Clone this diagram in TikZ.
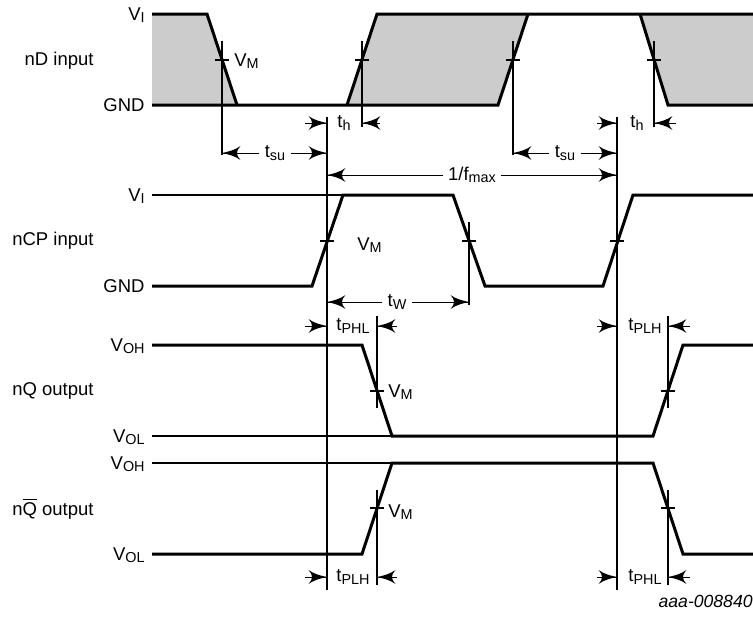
\documentclass[tikz,border=0pt]{standalone}
\usepackage{fontspec}
\setmainfont{Liberation Sans}
\usetikzlibrary{arrows}
\usetikzlibrary{decorations.markings}
\usetikzlibrary{positioning}
\tikzset{dimarrow/.style = {decoration={markings,
                                  mark=at position 1 with {\arrow[scale=2.3]{latex'}}},
                      postaction={decorate}}}
\tikzset{signal/.style = {line width=1.5pt}}
\tikzset{guide/.style = {line width=0.55pt}}
\tikzset{level/.style = {anchor=base east, inner sep=0pt}}
\tikzset{vmark/.style = {anchor=base west, inner sep=0pt}}
\tikzset{dimlabel/.style = {inner xsep=2.5pt, inner ysep=0pt}}
\definecolor{mgrey}{rgb}{0.8, 0.8, 0.8}
\newcommand{\lsub}[1]{\raisebox{-1.1pt}{\fontsize{7.2}{8}\selectfont #1}}

\begin{document}
\begin{tikzpicture}[x=0.5pt, y=-0.5pt, font=\fontsize{9.25}{11}\selectfont]
    \useasboundingbox (0, 0) rectangle (753, 616);
    \fill [mgrey] (152, 14) -- (207, 14) -- (237, 105) -- (152, 105) -- cycle;
    \fill [mgrey] (347, 105) -- (377, 14) -- (528, 14) -- (498, 105) -- cycle;
    \fill [mgrey] (640, 14) -- (753, 14) -- (753, 105) -- (668, 105) -- cycle;
    \draw [signal] (152, 14) -- (207, 14) -- (237, 105);
    \draw [signal] (152, 105) -- (498, 105) -- (528, 14);
    \draw [signal] (347, 105) -- (377, 14) -- (753, 14);
    \draw [signal] (640, 14) -- (668, 105) -- (753, 105);
    \draw [guide] (152, 195) -- (343, 195);
    \draw [signal] (152, 286) -- (312, 286) -- (343, 195) -- (453, 195) -- (485, 286)
        -- (603, 286) -- (633, 195) -- (753, 195);
    \draw [guide] (152, 436) -- (392, 436);
    \draw [signal] (152, 345) -- (362, 345) -- (392, 436) -- (653, 436) -- (683, 345) -- (753, 345);
    \draw [guide] (152, 463) -- (392, 463);
    \draw [signal] (152, 554) -- (362, 554) -- (392, 463) -- (653, 463) -- (683, 554) -- (753, 554);
    \draw [guide] (327, 117) -- (327, 590);
    \draw [guide] (617, 117) -- (617, 590);
    \draw [guide] (222, 41) -- (222, 155) (362, 41) -- (362, 127)
        (513, 41) -- (513, 155) (654, 41) -- (654, 127)
        (469, 222) -- (469, 305)
        (377, 316) -- (377, 408) (668, 316) -- (668, 408)
        (377, 490) -- (377, 585) (668, 490) -- (668, 585);
    \draw [guide] (215, 60) -- (229, 60) (355, 60) -- (369, 60)
        (506, 60) -- (520, 60) (647, 60) -- (661, 60)
        (320, 241) -- (334, 241) (462, 241) -- (476, 241) (610, 241) -- (624, 241)
        (370, 391) -- (384, 391) (661, 391) -- (675, 391)
        (370, 508) -- (384, 508) (661, 508) -- (675, 508);
    \node [level] (nd) at (94, 65) {nD input};
    \node [level] (ncp) at (94, 245) {nCP input};
    \node [level] (nq) at (94, 395) {nQ output};
    \node [level] (nqbar) at (94, 515) {n$\overline{\mbox{Q}}$ output};
    \node [level] (vi1) at (145, 20.6) {V\lsub{I}};
    \node [level] (gnd1) at (145, 111.6) {GND};
    \node [level] (vi2) at (145, 201.6) {V\lsub{I}};
    \node [level] (gnd2) at (145, 292.6) {GND};
    \node [level] (voh1) at (145, 351.6) {V\lsub{OH}};
    \node [level] (vol1) at (145, 442.6) {V\lsub{OL}};
    \node [level] (voh2) at (145, 469.6) {V\lsub{OH}};
    \node [level] (vol2) at (145, 560.6) {V\lsub{OL}};
    \node [vmark] (vm1) at (234, 66.5) {V\lsub{M}};
    \node [vmark] (vm2) at (357, 250.5) {V\lsub{M}};
    \node [vmark] (vm3) at (388, 397.5) {V\lsub{M}};
    \node [vmark] (vm4) at (388, 517) {V\lsub{M}};
    \node [dimlabel] (th1) at (344, 123) {t\lsub{h}};
    \draw [dimarrow] (305, 123) -- (327, 123);
    \draw [dimarrow] (380, 123) -- (362, 123);
    \node [dimlabel] (th2) at (637, 123) {t\lsub{h}};
    \draw [dimarrow] (597, 123) -- (617, 123);
    \draw [dimarrow] (676, 123) -- (654, 123);
    \node [dimlabel] (tsu1) at (275, 153) {t\lsub{su}};
    \draw [dimarrow] (tsu1) -- (222, 153);
    \draw [dimarrow] (tsu1) -- (327, 153);
    \node [dimlabel] (tsu2) at (565, 153) {t\lsub{su}};
    \draw [dimarrow] (tsu2) -- (513, 153);
    \draw [dimarrow] (tsu2) -- (617, 153);
    \node [dimlabel] (fmax) at (472, 175) {1/f\lsub{max}};
    \draw [dimarrow] (fmax) -- (327, 175);
    \draw [dimarrow] (fmax) -- (617, 175);
    \node [dimlabel] (tw) at (397, 302) {t\lsub{W}};
    \draw [dimarrow] (tw) -- (327, 302);
    \draw [dimarrow] (tw) -- (469, 302);
    \node [dimlabel] (tphl1) at (353, 326) {t\lsub{PHL}};
    \draw [dimarrow] (305, 326) -- (327, 326);
    \draw [dimarrow] (397, 326) -- (377, 326);
    \node [dimlabel] (tplh1) at (645, 326) {t\lsub{PLH}};
    \draw [dimarrow] (597, 326) -- (617, 326);
    \draw [dimarrow] (690, 326) -- (668, 326);
    \node [dimlabel] (tplh2) at (353, 577) {t\lsub{PLH}};
    \draw [dimarrow] (305, 577) -- (327, 577);
    \draw [dimarrow] (397, 577) -- (377, 577);
    \node [dimlabel] (tphl2) at (645, 577) {t\lsub{PHL}};
    \draw [dimarrow] (597, 577) -- (617, 577);
    \draw [dimarrow] (690, 577) -- (668, 577);
    \node [level, font=\fontsize{8.8}{10}\selectfont\itshape] (code) at (753, 607) {aaa-008840};
\end{tikzpicture}
\end{document}
